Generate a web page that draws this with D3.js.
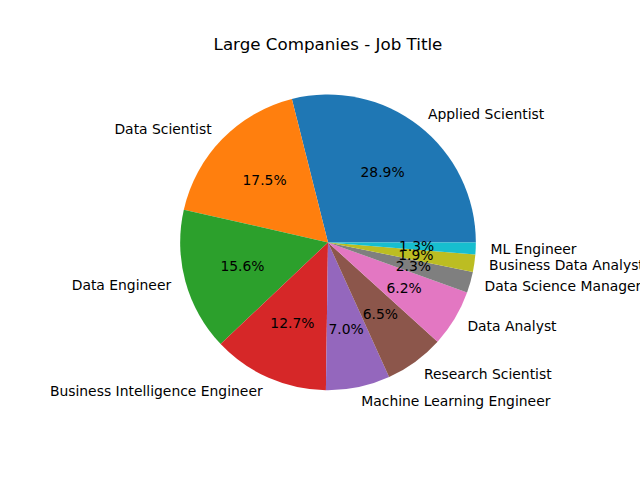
<!DOCTYPE html>
<html>
<head>
<meta charset="utf-8">
<script src="https://cdn.jsdelivr.net/npm/d3@7"></script>
<style>
  body { margin: 0; background: #fff; }
  svg { font-family: "DejaVu Sans", sans-serif; }
</style>
</head>
<body>
<svg id="chart" width="640" height="480"></svg>
<script>
(function () {
  'use strict';

  var titles = ['Applied Scientist', 'Data Scientist', 'Data Engineer',
    'Business Intelligence Engineer', 'Machine Learning Engineer',
    'Research Scientist', 'Data Analyst', 'Data Science Manager',
    'Business Data Analyst', 'ML Engineer'];
  var shares = [28.9, 17.5, 15.6, 12.7, 7.0, 6.5, 6.2, 2.3, 1.9, 1.3];
  var colors = ['#1f77b4', '#ff7f0e', '#2ca02c', '#d62728', '#9467bd',
    '#8c564b', '#e377c2', '#7f7f7f', '#bcbd22', '#17becf'];

  var width = 640, height = 480;
  // axes box like matplotlib's default subplot
  var left = 0.125 * width, right = 0.9 * width;
  var top = (1 - 0.88) * height, bottom = (1 - 0.11) * height;
  var cx = (left + right) / 2;
  var cy = (top + bottom) / 2;
  var radius = (bottom - top) / 2.5;

  var svg = d3.select('#chart');

  svg.append('text')
    .attr('x', cx)
    .attr('y', top - 8)
    .attr('text-anchor', 'middle')
    .style('font-size', '16.7px')
    .text('Large Companies - Job Title');

  var rows = titles.map(function (t, i) {
    return { title: t, value: shares[i], color: colors[i] };
  });

  // counterclockwise from 3 o'clock
  var pie = d3.pie()
    .sort(null)
    .value(function (d) { return d.value; })
    .startAngle(Math.PI / 2)
    .endAngle(Math.PI / 2 - 2 * Math.PI);

  var arc = d3.arc().innerRadius(0).outerRadius(radius);

  var g = svg.append('g')
    .attr('transform', 'translate(' + cx + ',' + cy + ')');

  var arcs = pie(rows);

  g.selectAll('path')
    .data(arcs)
    .enter()
    .append('path')
    .attr('d', arc)
    .attr('fill', function (d) { return d.data.color; });

  function at(d, k) {
    var a = (d.startAngle + d.endAngle) / 2;
    return [Math.sin(a) * radius * k, -Math.cos(a) * radius * k];
  }

  g.selectAll('text.label')
    .data(arcs)
    .enter()
    .append('text')
    .attr('class', 'label')
    .attr('x', function (d) { return at(d, 1.1)[0]; })
    .attr('y', function (d) { return at(d, 1.1)[1]; })
    .attr('dy', '0.35em')
    .attr('text-anchor', function (d) { return at(d, 1.1)[0] > 0 ? 'start' : 'end'; })
    .style('font-size', '13.9px')
    .text(function (d) { return d.data.title; });

  g.selectAll('text.pct')
    .data(arcs)
    .enter()
    .append('text')
    .attr('class', 'pct')
    .attr('x', function (d) { return at(d, 0.6)[0]; })
    .attr('y', function (d) { return at(d, 0.6)[1]; })
    .attr('dy', '0.35em')
    .attr('text-anchor', 'middle')
    .style('font-size', '13.9px')
    .text(function (d) { return d.data.value.toFixed(1) + '%'; });
}());
</script>
</body>
</html>
